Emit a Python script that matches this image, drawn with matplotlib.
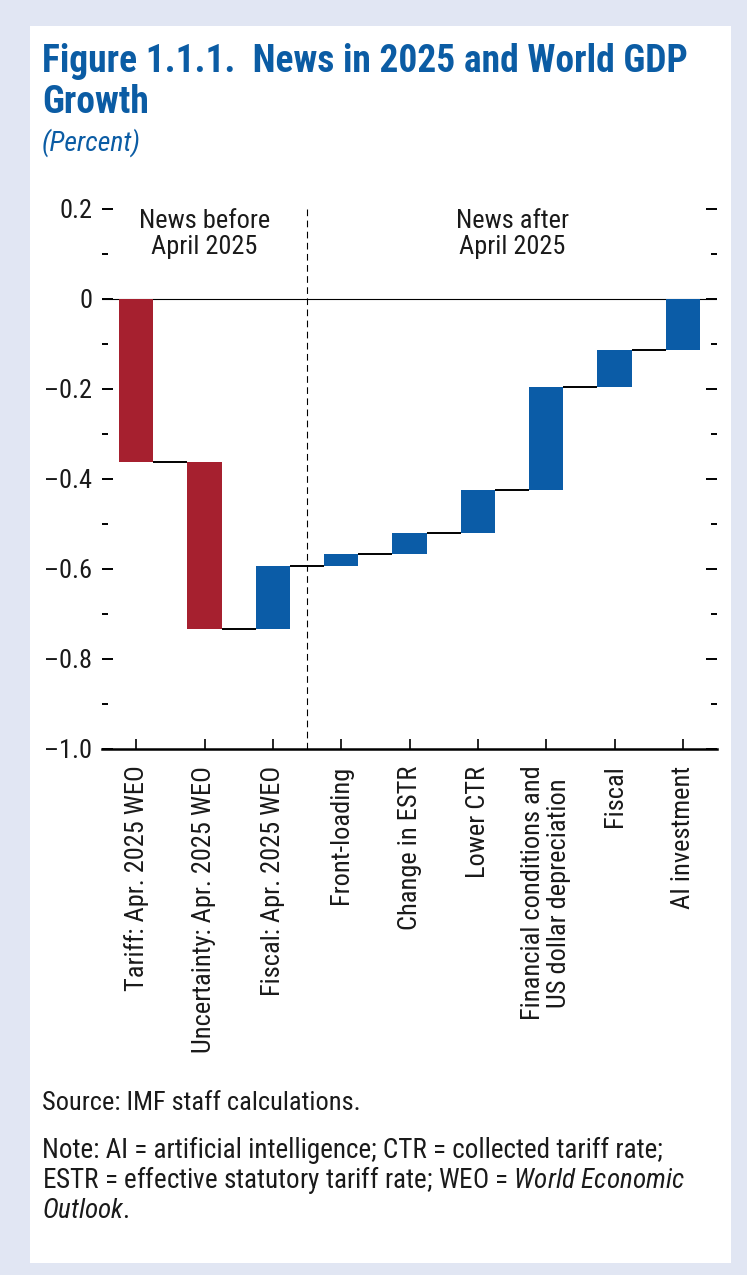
import matplotlib
matplotlib.use("Agg")
import matplotlib.pyplot as plt
from matplotlib import font_manager
from matplotlib.patches import Rectangle
from matplotlib.ticker import MultipleLocator, FixedLocator

# ---------------- data ----------------
categories = [
    "Tariff: Apr. 2025 WEO",
    "Uncertainty: Apr. 2025 WEO",
    "Fiscal: Apr. 2025 WEO",
    "Front-loading",
    "Change in ESTR",
    "Lower CTR",
    "Financial conditions and\nUS dollar depreciation",
    "Fiscal",
    "AI investment",
]
contributions = [-0.363, -0.370, 0.140, 0.027, 0.046, 0.096, 0.228, 0.083, 0.113]
bar_colors = ["red", "red", "blue", "blue", "blue", "blue", "blue", "blue", "blue"]
y_ticks = [0.2, 0.0, -0.2, -0.4, -0.6, -0.8, -1.0]
y_tick_labels = ["0.2", "0", "\u20130.2", "\u20130.4", "\u20130.6", "\u20130.8", "\u20131.0"]
group_labels = ["News before\nApril 2025", "News after\nApril 2025"]

title_lines = ["Figure 1.1.1.  News in 2025 and World GDP", "Growth"]
subtitle = "(Percent)"
source = "Source: IMF staff calculations."
note_lines = [
    "Note: AI = artificial intelligence; CTR = collected tariff rate;",
    "ESTR = effective statutory tariff rate; WEO = $\\it{World\\ Economic}$",
    "$\\it{Outlook}$.",
]

# ---------------- fonts ----------------
names = {f.name for f in font_manager.fontManager.ttflist}
cand = ["Liberation Sans Narrow", "Roboto Condensed", "Open Sans Condensed", "Liberation Sans"]
FONT = next((c for c in cand if c in names), "DejaVu Sans")
plt.rcParams["font.family"] = [FONT, "DejaVu Sans"]
plt.rcParams["mathtext.fontset"] = "custom"
plt.rcParams["mathtext.it"] = FONT + ":italic"
plt.rcParams["mathtext.rm"] = FONT

COLORS = {"red": "#A6202F", "blue": "#0B5CA7"}
TITLE_BLUE = "#0B5CA4"
BG = "#E1E6F3"
TXT = "#1a1a1a"

W, H = 747, 1275
fig = plt.figure(figsize=(W / 100, H / 100), dpi=100)
fig.patch.set_facecolor(BG)
fig.add_artist(Rectangle((30 / W, 1 - 1263 / H), 701 / W, (1263 - 26) / H,
                         transform=fig.transFigure, facecolor="white",
                         edgecolor="none", zorder=0))

ax = fig.add_axes([102 / W, 1 - 749 / H, (717 - 102) / W, (749 - 209) / H])
ax.patch.set_alpha(0)

# waterfall
levels = []
cum = 0.0
bw = 0.5
for i, c in enumerate(contributions):
    start = cum
    cum = cum + c
    levels.append(cum)
    ax.bar(i, c, bottom=start, width=bw, color=COLORS[bar_colors[i]], zorder=3)
for i in range(len(contributions) - 1):
    ax.plot([i + bw / 2, i + 1 - bw / 2], [levels[i], levels[i]],
            color="black", lw=1.4, zorder=3, solid_capstyle="butt")

ax.axhline(0, color="black", lw=0.8, zorder=2)
ax.axvline(2.5, color="black", lw=0.8, ls=(0, (6, 4)), zorder=2)

ax.set_xlim(-0.5, len(categories) - 0.5)
ax.set_ylim(-1.0, 0.2)

for s in ["left", "right", "top"]:
    ax.spines[s].set_visible(False)
ax.spines["bottom"].set_linewidth(1.8)

ax.yaxis.set_major_locator(FixedLocator(y_ticks))
ax.set_yticklabels(y_tick_labels)
ax.yaxis.set_minor_locator(MultipleLocator(0.1))
ax.tick_params(axis="y", which="major", direction="in", length=8, width=1.4,
               left=True, right=True, labelsize=19, pad=7, labelcolor=TXT)
ax.tick_params(axis="y", which="minor", direction="in", length=4, width=1.4,
               left=True, right=True)

ax.set_xticks(range(len(categories)))
ax.set_xticklabels(categories, rotation=90, va="top", ha="center",
                   fontsize=19, linespacing=1.12, color=TXT)
ax.tick_params(axis="x", direction="in", length=7, width=1.2, pad=12)

for xg, lab in zip([1, 5.5], group_labels):
    ax.text(xg, 0.2, lab, ha="center", va="top", fontsize=19,
            linespacing=1.12, color=TXT)

# titles
fig.text(42 / W, 1 - 72 / H, title_lines[0], ha="left", va="baseline",
         fontsize=27, fontweight="bold", color=TITLE_BLUE)
fig.text(42 / W, 1 - 113 / H, title_lines[1], ha="left", va="baseline",
         fontsize=27, fontweight="bold", color=TITLE_BLUE)
fig.text(42 / W, 1 - 143 / H, subtitle, ha="left", va="center", fontsize=20,
         style="italic", color=TITLE_BLUE)

fig.text(42 / W, 1 - 1103 / H, source, ha="left", va="center", fontsize=19,
         color=TXT)
for k, line in enumerate(note_lines):
    fig.text(42 / W, 1 - (1150 + 30 * k) / H, line, ha="left", va="center",
             fontsize=19.5, color=TXT)

fig.savefig("out.png", dpi=100, facecolor=fig.get_facecolor())
